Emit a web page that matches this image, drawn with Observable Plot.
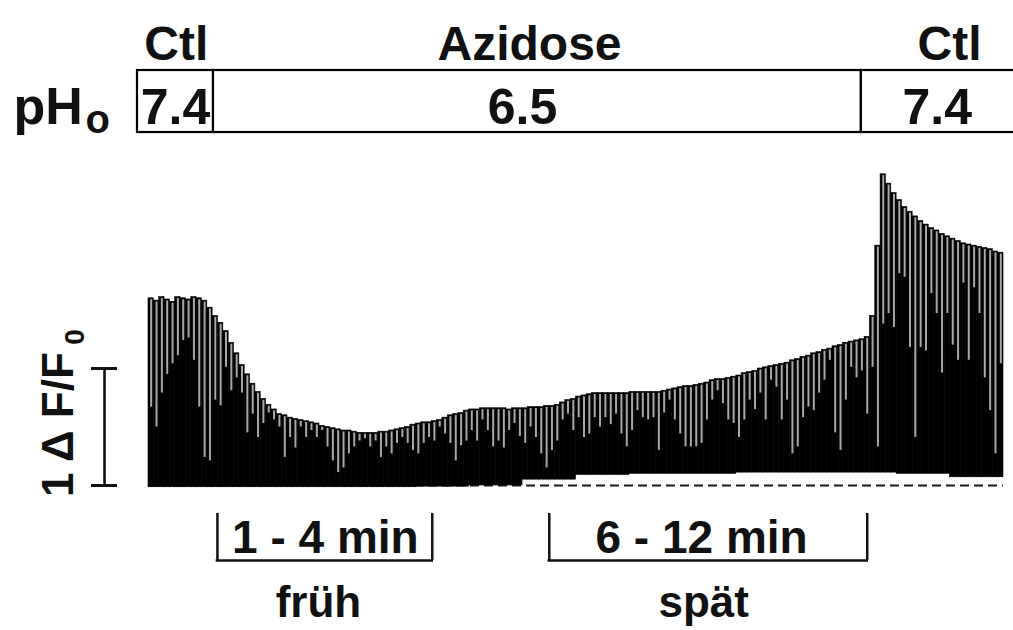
<!DOCTYPE html>
<html>
<head>
<meta charset="utf-8">
<script src="https://cdn.jsdelivr.net/npm/d3@7"></script>
<script src="https://cdn.jsdelivr.net/npm/@observablehq/plot@0.6"></script>
<style>
  html, body { margin: 0; padding: 0; background: #fff; }
  #chart svg { display: block; }
</style>
</head>
<body>
<div id="chart"></div>
<script>
// Peak amplitude of each Ca2+ transient (ΔF/F0), one value per beat
const peakAmplitude = [
  1.60,1.58,1.61,1.59,1.57,1.61,1.60,1.59,1.61,1.60,
  1.58,1.52,1.45,1.39,1.32,1.22,1.13,1.03,0.95,0.87,
  0.80,0.74,0.69,0.65,0.61,0.60,0.58,0.57,0.56,0.55,
  0.54,0.53,0.51,0.50,0.49,0.48,0.47,0.47,0.46,0.45,
  0.45,0.45,0.45,0.46,0.46,0.47,0.48,0.49,0.50,0.52,
  0.53,0.54,0.54,0.55,0.56,0.58,0.60,0.61,0.62,0.64,
  0.65,0.65,0.66,0.66,0.66,0.66,0.66,0.65,0.66,0.66,
  0.66,0.67,0.67,0.67,0.68,0.68,0.69,0.71,0.73,0.74,
  0.76,0.77,0.78,0.79,0.79,0.79,0.79,0.79,0.79,0.79,
  0.80,0.80,0.80,0.80,0.80,0.80,0.81,0.82,0.83,0.84,
  0.85,0.85,0.86,0.87,0.88,0.90,0.91,0.91,0.92,0.93,
  0.94,0.96,0.97,0.98,1.00,1.01,1.02,1.03,1.04,1.05,
  1.07,1.08,1.10,1.11,1.13,1.14,1.16,1.17,1.19,1.20,
  1.22,1.23,1.24,1.25,1.27,1.45,2.05,2.66,2.58,2.50,
  2.44,2.38,2.34,2.30,2.26,2.23,2.20,2.18,2.15,2.13,
  2.11,2.09,2.07,2.06,2.05,2.04,2.03,2.02,2.00,1.99
];

// Level the signal relaxes to before the next beat (ΔF/F0)
const troughAmplitude = [
  0.67,0.50,0.79,0.95,1.04,1.11,1.24,1.26,1.07,0.67,
  0.24,0.21,0.73,0.68,1.01,0.81,0.92,0.79,0.45,0.61,
  0.41,0.53,0.62,0.56,0.50,0.24,0.41,0.32,0.50,0.41,
  0.47,0.41,0.47,0.33,0.21,0.11,0.15,0.27,0.33,0.38,
  0.40,0.33,0.38,0.24,0.33,0.27,0.36,0.41,0.36,0.30,
  0.27,0.36,0.41,0.38,0.50,0.44,0.36,0.21,0.34,0.38,
  0.47,0.38,0.56,0.47,0.33,0.38,0.32,0.47,0.53,0.42,
  0.36,0.50,0.41,0.27,0.15,0.30,0.38,0.56,0.61,0.47,
  0.58,0.41,0.44,0.58,0.50,0.58,0.52,0.61,0.44,0.33,
  0.47,0.64,0.58,0.56,0.58,0.30,0.62,0.73,0.56,0.44,
  0.33,0.33,0.33,0.36,0.56,0.73,0.81,0.70,0.56,0.53,
  0.41,0.56,0.73,0.65,0.79,0.56,0.90,0.84,0.56,0.73,
  0.27,0.33,0.58,0.67,0.64,0.79,0.90,1.07,0.45,0.30,
  0.73,1.01,0.92,0.98,0.61,1.01,0.33,1.38,1.47,1.35,
  1.81,1.78,1.18,0.41,1.18,1.15,1.64,1.47,0.96,1.47,
  1.20,1.07,1.73,1.07,1.69,1.47,0.92,0.64,0.27,1.04
];

// Diastolic floor of the trace, one value per block of 10 beats
const restingLevel = [
  -0.015,-0.015,-0.015,-0.015,-0.015,-0.01,0.0,0.05,
  0.09,0.10,0.10,0.11,0.11,0.11,0.10,0.07
];

// Superfusion protocol: bath solution and its pH, by beat
const protocolLabels = ["Ctl", "Azidose", "Ctl"];
const protocolPH = ["7.4", "6.5", "7.4"];
const protocolStart = [-2.06, 12.16, 133.4];
const protocolEnd = [12.16, 133.4, 163];

// Analysis windows
const windowLabels = ["1 - 4 min", "6 - 12 min"];
const windowPhase = ["früh", "spät"];
const windowStart = [12.9, 75.0];
const windowEnd = [53.1, 134.5];

// ---- layout (in the chart's own units: beats across, ΔF/F0 up) ----
const FONT = "'Liberation Sans', Arial, Helvetica, sans-serif";
const headerLabelY = 3.64;
const boxTop = 3.547, boxBottom = 3.017, boxTextY = 3.094;
const protocolLabelAt = [5.2, 71.3, 149.9];
const protocolPHAt = [5.05, 70.0, 147.6];
const bracketTop = -0.239, bracketBottom = -0.641, windowLabelY = -0.573;
const windowLabelAt = [33.1, 103.5];
const phaseY = -1.125, phaseAt = [31.8, 103.9];
const scaleBarX = -8.23, scaleCap = [-10.67, -5.8];

const beats = peakAmplitude.map((peak, i) => ({
  beat: i,
  peak,
  trough: troughAmplitude[i],
  rest: restingLevel[Math.floor(i / 10)]
}));

const protocol = protocolLabels.map((label, i) => ({
  label, ph: protocolPH[i], start: protocolStart[i], end: protocolEnd[i],
  labelAt: protocolLabelAt[i], phAt: protocolPHAt[i]
}));

const windows = windowLabels.map((label, i) => ({
  label, phase: windowPhase[i], start: windowStart[i], end: windowEnd[i],
  labelAt: windowLabelAt[i], phaseAt: phaseAt[i]
}));

const bracketSides = windows.flatMap(w => [w.start, w.end]);

const chart = Plot.plot({
  width: 1013,
  height: 630,
  marginLeft: 148,
  marginRight: 10,
  marginTop: 134,
  marginBottom: 145,
  x: {domain: [0, 160], axis: null},
  y: {domain: [0, 3], axis: null},
  style: {fontFamily: FONT, background: "#fff"},
  marks: [
    // zero line
    Plot.ruleY([0], {stroke: "#1a1a1a", strokeWidth: 2.2, strokeDasharray: "9,5"}),
    // each beat: filled from the diastolic floor up to its peak
    Plot.rect(beats, {
      x1: "beat", x2: d => d.beat + 1, y1: "rest", y2: "peak",
      fill: "black", stroke: "black", strokeWidth: 0.6
    }),
    // relaxation of each transient, drawn as a light stroke down to its trough
    Plot.ruleX(beats, {
      x: d => d.beat + 0.5, y1: "trough", y2: d => d.peak - 0.012,
      stroke: "#a8a8a8", strokeWidth: 2
    }),

    // protocol bar
    Plot.rect(protocol, {
      x1: "start", x2: "end", y1: boxBottom, y2: boxTop,
      fill: "white", stroke: "black", strokeWidth: 2.2
    }),
    Plot.text(protocol, {
      x: "labelAt", y: headerLabelY, text: "label",
      fontSize: 48, fontWeight: "bold", lineAnchor: "bottom", fill: "#111"
    }),
    Plot.text(protocol, {
      x: "phAt", y: boxTextY, text: "ph",
      fontSize: 50, fontWeight: "bold", lineAnchor: "bottom", fill: "#111"
    }),
    Plot.text(["pH"], {
      x: -25.26, y: boxTextY, text: d => d,
      fontSize: 52, fontWeight: "bold", textAnchor: "start", lineAnchor: "bottom", fill: "#111"
    }),
    Plot.text(["o"], {
      x: -11.79, y: boxBottom, text: d => d,
      fontSize: 40, fontWeight: "bold", textAnchor: "start", lineAnchor: "bottom", fill: "#111"
    }),

    // scale bar: 1 ΔF/F0
    Plot.ruleX([scaleBarX], {y1: 0, y2: 1, stroke: "#111", strokeWidth: 2.6}),
    Plot.ruleY([0, 1], {x1: scaleCap[0], x2: scaleCap[1], stroke: "#111", strokeWidth: 3}),
    Plot.text(["1 \u0394 F/F"], {
      x: -14.2, y: 0.52, text: d => d, rotate: -90,
      fontSize: 44, fontWeight: "bold", lineAnchor: "bottom", fill: "#111"
    }),
    Plot.text(["0"], {
      x: -12.16, y: 1.27, text: d => d, rotate: -90,
      fontSize: 28, fontWeight: "bold", lineAnchor: "bottom", fill: "#111"
    }),

    // analysis windows
    Plot.ruleX(bracketSides, {y1: bracketTop, y2: bracketBottom, stroke: "#111", strokeWidth: 2.5}),
    Plot.ruleY(windows, {
      x1: "start", x2: "end", y: bracketBottom,
      stroke: "#111", strokeWidth: 2.5, strokeLinecap: "square"
    }),
    Plot.text(windows, {
      x: "labelAt", y: windowLabelY, text: "label",
      fontSize: 46, fontWeight: "bold", lineAnchor: "bottom", fill: "#111"
    }),
    Plot.text(windows, {
      x: "phaseAt", y: phaseY, text: "phase",
      fontSize: 44, fontWeight: "bold", lineAnchor: "bottom", fill: "#111"
    })
  ]
});

document.getElementById("chart").append(chart);
</script>
</body>
</html>
